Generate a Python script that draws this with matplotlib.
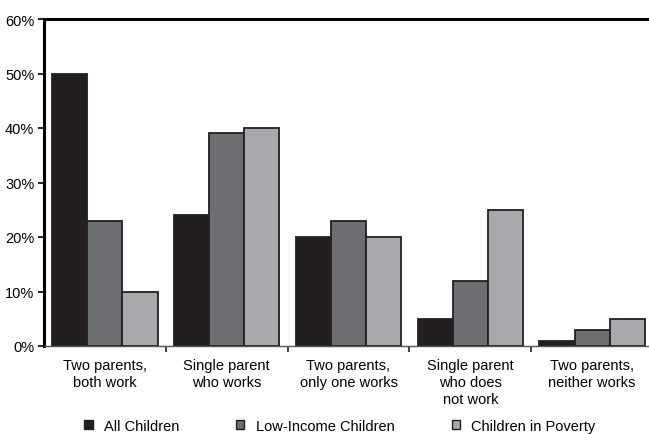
import matplotlib
matplotlib.use("Agg")
import matplotlib.pyplot as plt
import numpy as np
from matplotlib.patches import Patch

plt.rcParams['font.family'] = ['Liberation Sans', 'DejaVu Sans']
plt.rcParams['font.size'] = 10.5

categories = ["Two parents,\nboth work", "Single parent\nwho works",
              "Two parents,\nonly one works", "Single parent\nwho does\nnot work",
              "Two parents,\nneither works"]
series_names = ["All Children", "Low-Income Children", "Children in Poverty"]
all_children = [50, 24, 20, 5, 1]
low_income = [23, 39, 23, 12, 3]
in_poverty = [10, 40, 20, 25, 5]
colors = ["#231f20", "#6d6e71", "#a7a9ac"]

fig = plt.figure(figsize=(6.49, 4.35), dpi=100)
ax = fig.add_axes([44 / 649, 1 - 347 / 435, 609 / 649, 327 / 435])

x = np.arange(len(categories))
w = 0.288
for i, vals in enumerate([all_children, low_income, in_poverty]):
    ax.bar(x + (i - 1) * w, vals, w, color=colors[i], edgecolor="#231f20",
           linewidth=1.3, zorder=2)

ax.set_xlim(-0.5, len(categories) - 0.5)
ax.set_ylim(0, 60)
ax.set_yticks(range(0, 61, 10))
ax.set_yticklabels([f"{v}%" for v in range(0, 61, 10)])
ax.tick_params(axis='y', direction='out', length=4, width=1.2, pad=3)

ax.set_xticks(x)
ax.set_xticklabels(categories, linespacing=1.27)
ax.set_xticks(np.arange(0.5, len(categories) - 0.5, 1), minor=True)
ax.tick_params(axis='x', which='major', length=0, pad=9)
ax.tick_params(axis='x', which='minor', direction='out', length=4, width=1.2, color="#231f20")

ax.spines['right'].set_visible(False)
ax.spines['top'].set_linewidth(2.2)
ax.spines['left'].set_linewidth(2.2)
ax.spines['bottom'].set_linewidth(1.0)
ax.spines['bottom'].set_color("#555555")

handles = [Patch(facecolor=c, edgecolor="#231f20", linewidth=1.0) for c in colors]
fig.legend(handles, series_names, loc='center', bbox_to_anchor=(0.524, 1 - 427 / 435),
           ncol=3, frameon=False, handlelength=0.55, handleheight=0.55,
           handletextpad=0.8, columnspacing=3.9, borderpad=0)

fig.savefig("out.png", dpi=100)
